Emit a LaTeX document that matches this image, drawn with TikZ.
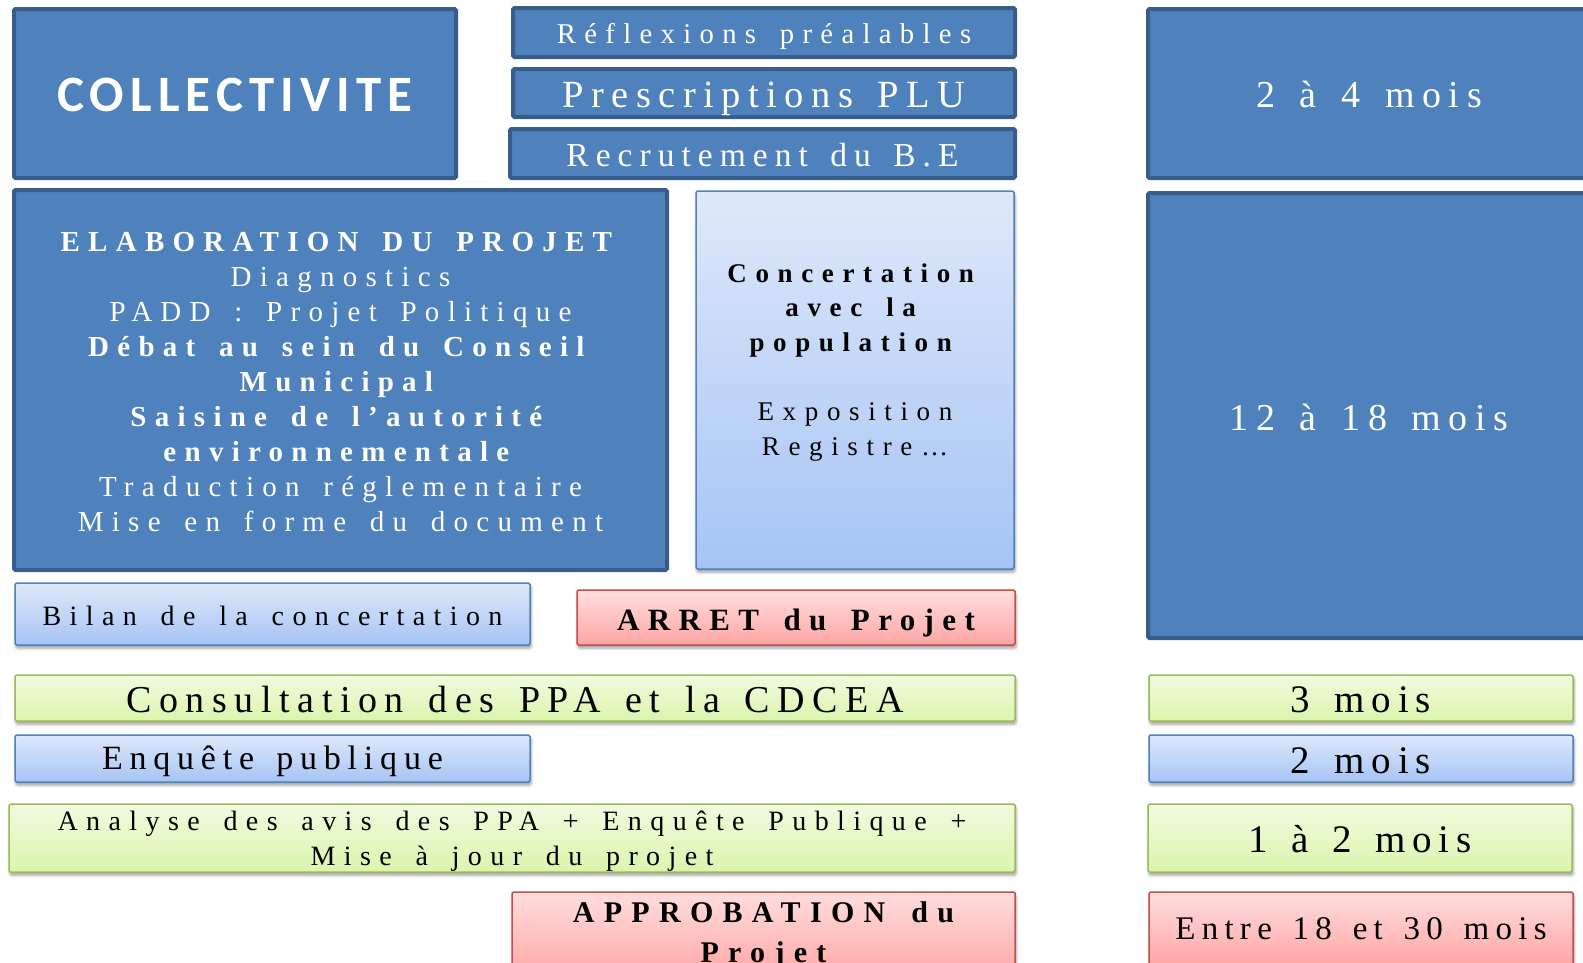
\documentclass[tikz,border=0pt]{standalone}
\usepackage{fontspec}
\setmainfont{Liberation Serif}
\newfontfamily\calibfont{Carlito}
\usetikzlibrary{shadows.blur}
\definecolor{dkfill}{HTML}{4F81BD}
\definecolor{dkline}{HTML}{385D8A}
\definecolor{ltbluetop}{HTML}{DEE8FA}
\definecolor{ltbluebot}{HTML}{A6C4F5}
\definecolor{ltblueline}{HTML}{4F81BD}
\definecolor{gntop}{HTML}{F1FADF}
\definecolor{gnbot}{HTML}{DBF5AD}
\definecolor{gnline}{HTML}{9BBB59}
\definecolor{rdtop}{HTML}{FFDEDE}
\definecolor{rdbot}{HTML}{FFA5A5}
\definecolor{rdline}{HTML}{C0504D}
\newcommand\tx[3]{\fontsize{#1}{#2}\selectfont\addfontfeature{LetterSpace=#3}}
\newcommand\wsp[1]{\spaceskip=\dimexpr 0.25em+#1em/50\relax\xspaceskip=\spaceskip}
\tikzset{
  basebox/.style={inner sep=0pt, align=center, rounded corners=1.5pt},
  shadowed/.style={blur shadow={shadow xshift=1pt, shadow yshift=-3pt, shadow blur radius=3pt, shadow opacity=40}},
  darkbox/.style={basebox, fill=dkfill, draw=dkline, line width=4pt, text=white},
  bluebox/.style={basebox, shadowed, top color=ltbluetop, bottom color=ltbluebot, draw=ltblueline, line width=1.5pt, text=black},
  greenbox/.style={basebox, shadowed, top color=gntop, bottom color=gnbot, draw=gnline, line width=1.5pt, text=black},
  redbox/.style={basebox, shadowed, top color=rdtop, bottom color=rdbot, draw=rdline, line width=1.5pt, text=black},
  sz/.style n args={2}{minimum width=#1pt, minimum height=#2pt, text width=#1pt},
  th/.style n args={2}{text height=#1pt, text depth=#2pt}
}
\begin{document}
\begin{tikzpicture}[x=1pt,y=-1pt]
\useasboundingbox (0,0) rectangle (1583,962);
% top row
\node[darkbox, sz={442}{169}, th={35}{0}, font=\calibfont\bfseries\tx{51}{60}{12}] (collect) at (235,93.5) {COLLECTIVITE};
\node[darkbox, sz={502}{49}, th={22}{0}, font=\tx{28.7}{34}{29}] (refl) at (764,32.5) {\wsp{29}Réflexions préalables};
\node[darkbox, sz={502}{48}, th={28.5}{0}, font=\tx{38.5}{46}{19.5}] (presc) at (764,93) {\wsp{19.5}Prescriptions PLU};
\node[darkbox, sz={505}{49}, th={25}{0}, font=\tx{33.5}{40}{21}] (recru) at (762.5,153.5) {\wsp{21}Recrutement du B.E};
\node[darkbox, sz={442}{169}, th={28.7}{0}, font=\tx{38}{46}{20}] (d24) at (1369,93.5) {\wsp{20}2 à 4 mois};
% second row
\node[darkbox, sz={653}{380}, th={20}{278}, font=\tx{29}{35}{28.5}] (elab) at (340.5,380) {\wsp{28.5}%
\textbf{ELABORATION DU PROJET}\\
Diagnostics\\
PADD : Projet Politique\\
\textbf{Débat au sein du Conseil}\\
\textbf{Municipal}\\
\textbf{Saisine de l’autorité}\\
\textbf{environnementale}\\
Traduction réglementaire\\
Mise en forme du document};
\node[bluebox, sz={318}{378}, th={20}{216}, font=\tx{27}{34.7}{32}] (conc) at (855,380) {\wsp{32}%
\textbf{Concertation}\\
\textbf{avec la}\\
\textbf{population}\\
\mbox{}\\
Exposition\\
Registre…};
\node[darkbox, sz={442}{445}, th={29.7}{0}, font=\tx{38}{46}{20}] (d1218) at (1369,415.5) {\wsp{20}12 à 18 mois};
% third row
\node[bluebox, sz={515}{62}, th={22.5}{0}, font=\tx{28}{34}{30}] (bilan) at (272.5,614) {\wsp{30}Bilan de la concertation};
\node[redbox, sz={438}{55}, th={26}{0}, font=\bfseries\tx{31}{37}{27}] (arret) at (796,617.5) {\wsp{27}ARRET du Projet};
% fourth row
\node[greenbox, sz={1000}{46}, th={28.2}{0}, font=\tx{38}{46}{20}] (consult) at (515,698) {\wsp{20}Consultation des PPA et la CDCEA};
\node[greenbox, sz={424}{46}, th={29.4}{0}, font=\tx{39}{46}{18}] (d3) at (1361,698) {\wsp{18}3 mois};
% fifth row
\node[bluebox, sz={515}{47}, th={21.5}{0}, font=\tx{34}{40}{20}] (enq) at (272.5,758.5) {\wsp{20}Enquête publique};
\node[bluebox, sz={424}{47}, th={29.4}{0}, font=\tx{39}{46}{18}] (d2) at (1361,758.5) {\wsp{18}2 mois};
% sixth row
\node[greenbox, sz={1006}{68}, th={20}{36}, font=\tx{28}{35}{30}] (analyse) at (512,838) {\wsp{30}Analyse des avis des PPA + Enquête Publique +\\ Mise à jour du projet};
\node[greenbox, sz={424}{68}, th={29.4}{0}, font=\tx{39}{46}{17.5}] (d12) at (1360,838) {\wsp{17.5}1 à 2 mois};
% seventh row
\node[redbox, sz={503}{86}, th={20}{46}, font=\bfseries\tx{30}{40}{31}] (approb) at (763.5,935) {\wsp{31}APPROBATION du\\ Projet};
\node[redbox, sz={424}{74}, th={21.8}{0}, font=\tx{33}{40}{19}] (entre) at (1361,929) {\wsp{19}Entre 18 et 30 mois};
\end{tikzpicture}
\end{document}
